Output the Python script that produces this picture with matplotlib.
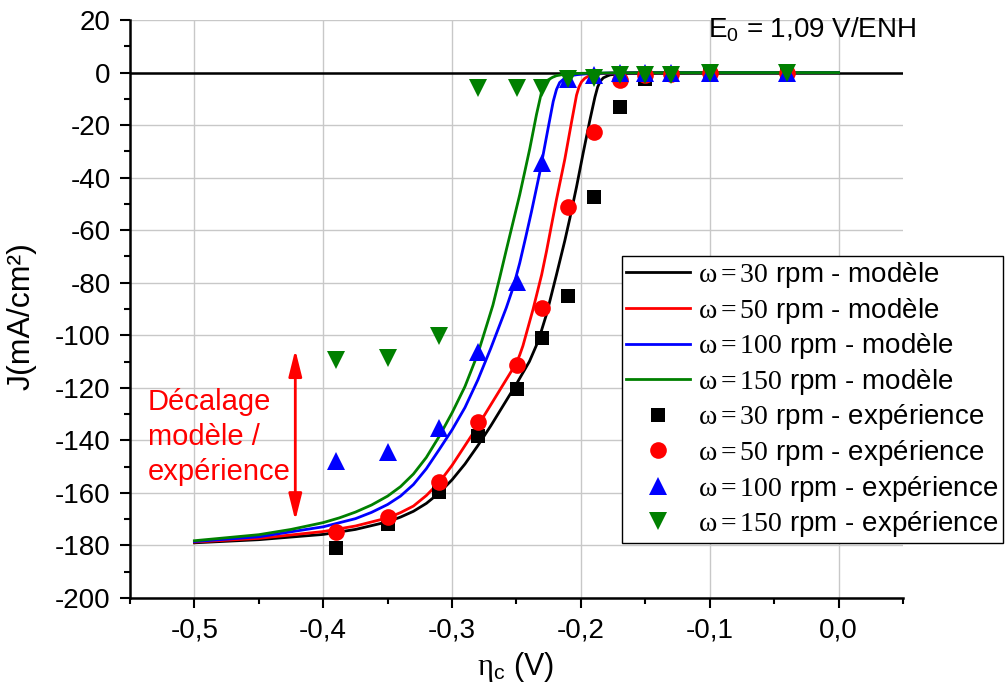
import matplotlib
matplotlib.use("Agg")
import matplotlib.pyplot as plt
from matplotlib.ticker import MultipleLocator, FuncFormatter

plt.rcParams['font.family'] = ['Liberation Sans', 'DejaVu Sans']
plt.rcParams['mathtext.fontset'] = 'custom'
plt.rcParams['mathtext.rm'] = 'Liberation Serif'
plt.rcParams['mathtext.it'] = 'Liberation Serif:italic'
plt.rcParams['mathtext.sf'] = 'Liberation Sans'

# ---------------- model curves ----------------
x_m30 = [-0.50, -0.45, -0.40, -0.375, -0.35, -0.34, -0.33, -0.32, -0.31, -0.30, -0.29, -0.28, -0.27, -0.26,
         -0.25, -0.24, -0.2332, -0.2267, -0.219, -0.2125, -0.2086, -0.2034, -0.1982, -0.193, -0.1891,
         -0.187, -0.185, -0.1826, -0.179, -0.1774, -0.17, -0.16, -0.15, -0.10, 0.0]
j_m30 = [-179.0, -177.8, -175.8, -173.9, -171.0, -169.2, -167.0, -164.0, -160.0, -155.0, -149.0, -142.0,
         -134.5, -126.5, -118.5, -110.0, -102.3, -92.0, -77.0, -64.0, -55.5, -43.5, -30.5, -18.0, -9.3,
         -5.5, -3.3, -2.0, -1.2, -0.9, -0.45, -0.2, -0.1, 0.0, 0.0]

x_m50 = [-0.50, -0.45, -0.40, -0.375, -0.35, -0.34, -0.33, -0.32, -0.31, -0.30, -0.29, -0.28, -0.27, -0.26,
         -0.25, -0.2475, -0.245, -0.2371, -0.2305, -0.2267, -0.223, -0.219, -0.2125, -0.2073, -0.2034,
         -0.2015, -0.1995, -0.197, -0.1943, -0.19, -0.185, -0.175, -0.15, -0.10, 0.0]
j_m50 = [-178.7, -177.3, -174.7, -172.6, -169.5, -167.5, -165.0, -161.0, -156.0, -149.5, -142.0, -134.5,
         -126.5, -118.5, -110.5, -107.5, -104.0, -90.0, -77.0, -68.0, -58.5, -48.4, -33.0, -18.9, -8.6,
         -5.5, -3.5, -2.2, -1.4, -0.8, -0.45, -0.2, -0.05, 0.0, 0.0]

x_m100 = [-0.50, -0.45, -0.40, -0.375, -0.3625, -0.35, -0.34, -0.33, -0.32, -0.31, -0.30, -0.29, -0.28,
          -0.27, -0.2657, -0.2579, -0.2527, -0.2475, -0.243, -0.2384, -0.2319, -0.2254, -0.2215, -0.219,
          -0.2165, -0.2125, -0.208, -0.203, -0.195, -0.18, -0.15, -0.10, 0.0]
j_m100 = [-178.5, -176.7, -172.9, -169.8, -167.4, -164.4, -161.2, -156.8, -150.8, -143.5, -136.0, -127.5,
          -117.0, -105.0, -99.5, -89.5, -82.0, -72.5, -63.0, -53.0, -38.0, -21.0, -11.0, -6.5,
          -3.8, -2.1, -1.2, -0.8, -0.45, -0.2, -0.05, 0.0, 0.0]

x_m150 = [-0.50, -0.45, -0.425, -0.40, -0.3875, -0.375, -0.3625, -0.35, -0.34, -0.33, -0.32, -0.31, -0.30,
          -0.29, -0.28, -0.2727, -0.2683, -0.263, -0.2579, -0.2527, -0.2475, -0.2437, -0.2397, -0.2345,
          -0.2306, -0.228, -0.2254, -0.222, -0.219, -0.2112, -0.20, -0.18, -0.15, -0.10, 0.0]
j_m150 = [-178.2, -175.9, -173.9, -171.3, -169.5, -167.3, -164.6, -161.2, -157.6, -152.8, -146.5, -138.5,
          -129.5, -119.5, -107.0, -95.5, -88.5, -78.0, -67.5, -57.0, -46.5, -38.0, -29.0, -16.0,
          -7.5, -4.3, -2.8, -1.8, -1.2, -0.5, -0.3, -0.15, -0.05, 0.0, 0.0]

# ---------------- experimental points ----------------
x_exp = [-0.39, -0.35, -0.31, -0.28, -0.25, -0.23, -0.21, -0.19, -0.17, -0.15, -0.13, -0.10, -0.04]
j_e30 = [-181.0, -172.0, -159.5, -138.3, -120.3, -100.9, -85.2, -47.4, -13.3, -2.5, -0.5, 0.0, 0.0]
j_e50 = [-174.7, -169.0, -156.0, -133.1, -111.4, -89.8, -51.3, -22.5, -2.8, -1.0, -0.5, 0.0, 0.0]
j_e100 = [-148.0, -144.5, -135.3, -106.4, -79.8, -34.3, -2.4, -0.9, -0.3, -0.3, -0.3, 0.0, 0.0]
j_e150 = [-109.6, -108.8, -100.3, -5.8, -5.8, -5.8, -2.4, -2.0, -0.8, -0.8, -0.8, 0.0, 0.0]

labels_model = [r'$\mathrm{\omega = 30}$ rpm - modèle', r'$\mathrm{\omega = 50}$ rpm - modèle',
                r'$\mathrm{\omega = 100}$ rpm - modèle', r'$\mathrm{\omega = 150}$ rpm - modèle']
labels_exp = [r'$\mathrm{\omega = 30}$ rpm - expérience', r'$\mathrm{\omega = 50}$ rpm - expérience',
              r'$\mathrm{\omega = 100}$ rpm - expérience', r'$\mathrm{\omega = 150}$ rpm - expérience']
colors = ['#000000', '#ff0000', '#0000ff', '#008000']

FS = 20

fig = plt.figure(figsize=(10.05, 6.85), dpi=100)
ax = fig.add_axes([130 / 1005, 1 - 598 / 685, (903 - 130) / 1005, (598 - 20) / 685])

ax.axhline(0, color='black', lw=1.8, zorder=2)

for xs, js, c, lab in zip([x_m30, x_m50, x_m100, x_m150], [j_m30, j_m50, j_m100, j_m150], colors, labels_model):
    ax.plot(xs, js, color=c, lw=2.0, label=lab, zorder=3, solid_joinstyle='round')

marker_specs = [('s', 10), ('o', 12), ('^', 13), ('v', 13)]
for js, c, lab, (mk, ms) in zip([j_e30, j_e50, j_e100, j_e150], colors, labels_exp, marker_specs):
    ax.plot(x_exp, js, linestyle='none', marker=mk, markersize=ms, color=c,
            markeredgewidth=0, label=lab, zorder=4)

ax.set_xlim(-0.55, 0.05)
ax.set_ylim(-200, 20)
ax.xaxis.set_major_locator(MultipleLocator(0.1))
ax.xaxis.set_minor_locator(MultipleLocator(0.05))
ax.yaxis.set_major_locator(MultipleLocator(20))
ax.yaxis.set_minor_locator(MultipleLocator(10))


def xfmt(v, pos):
    if abs(v) < 1e-9:
        v = 0.0
    return f"{v:.1f}".replace('.', ',')


ax.xaxis.set_major_formatter(FuncFormatter(xfmt))
ax.yaxis.set_major_formatter(FuncFormatter(lambda v, p: f"{int(round(v))}"))

for s in ['top', 'right']:
    ax.spines[s].set_visible(False)
for s in ['left', 'bottom']:
    ax.spines[s].set_linewidth(1.8)
ax.tick_params(which='major', direction='out', length=7, width=1.5, labelsize=FS, pad=7)
ax.tick_params(which='minor', direction='out', length=4, width=1.5)
ax.grid(True, which='major', color='#c8c8c8', lw=1.0, zorder=0)
ax.set_axisbelow(True)

fig.text(22 / 1005, 1 - 316 / 685, 'J(mA/cm²)', rotation=90, ha='center', va='center', fontsize=23)
fig.text(515 / 1005, 1 - 667 / 685, r'$\mathrm{\eta}_\mathsf{c}$ (V)', ha='center', va='center', fontsize=22)
fig.text(708 / 1005, 1 - 30 / 685, r'$\mathsf{E_0}$ = 1,09 V/ENH', ha='left', va='center', fontsize=FS)

ax.text(-0.536, -138.7, 'Décalage\nmodèle /\nexpérience', color='red', fontsize=21,
        ha='left', va='center', linespacing=1.3)
ax.annotate('', xy=(-0.4217, -105.5), xytext=(-0.4217, -170.5),
            arrowprops=dict(arrowstyle='<|-|>,head_length=0.8,head_width=0.2', color='red', lw=2,
                            mutation_scale=20, shrinkA=0, shrinkB=0))

leg = ax.legend(loc='upper left', bbox_to_anchor=(622 / 1005, 1 - 256 / 685), bbox_transform=fig.transFigure,
                fontsize=FS, frameon=True, fancybox=False, framealpha=1, edgecolor='black',
                borderaxespad=0, borderpad=0.15, handlelength=2.3, handletextpad=0.3,
                labelspacing=0.2, numpoints=1)
leg.get_frame().set_linewidth(1.0)

fig.savefig('out.png', dpi=100)
